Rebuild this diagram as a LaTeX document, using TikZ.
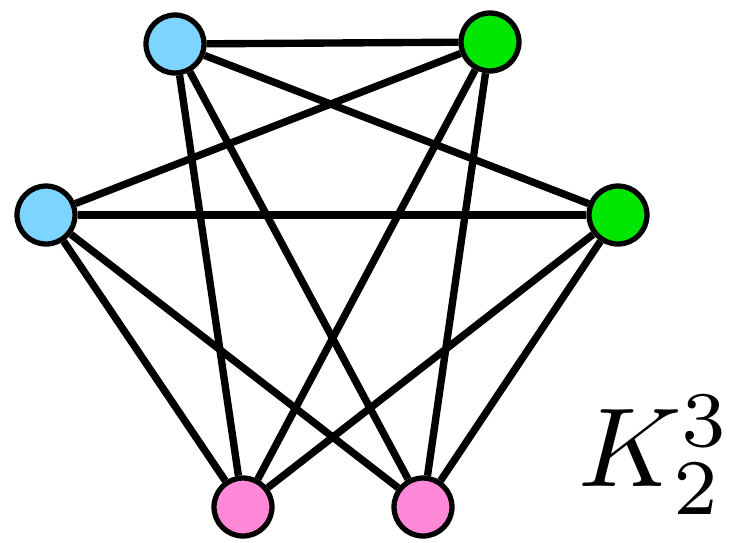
\documentclass[tikz,border=0pt]{standalone}
\usepackage{xcolor}
\usepackage{tikz}
\usetikzlibrary{positioning, backgrounds}
\definecolor{vtxB}{HTML}{7DD5FF}
\definecolor{vtxG}{HTML}{00E600}
\definecolor{vtxP}{HTML}{FF88D8}
\tikzset{
  vtx/.style={circle, draw=black, line width=3pt, minimum size=1.16cm, inner sep=0pt},
  edge/.style={draw=black, line width=4.2pt}
}

\begin{document}
\begin{tikzpicture}[x=0.02cm, y=-0.02cm]
\useasboundingbox (0,0) rectangle (730,542);
\node[vtx, fill=vtxB] (b1) at (175,44) {};
\node[vtx, fill=vtxB] (b2) at (46,215) {};
\node[vtx, fill=vtxG] (g1) at (490,42) {};
\node[vtx, fill=vtxG] (g2) at (618,215) {};
\node[vtx, fill=vtxP] (p1) at (243,507) {};
\node[vtx, fill=vtxP] (p2) at (423,507) {};
\begin{pgfonlayer}{background}
\foreach \u/\v in {b1/g1, b1/g2, b1/p1, b1/p2, b2/g1, b2/g2, b2/p1, b2/p2,
                   g1/p1, g1/p2, g2/p1, g2/p2}
  \draw[edge] (\u) -- (\v);
\end{pgfonlayer}
\node[scale=6.4] (lbl) at (655,455) {$K_2^3$};
\end{tikzpicture}
\end{document}
